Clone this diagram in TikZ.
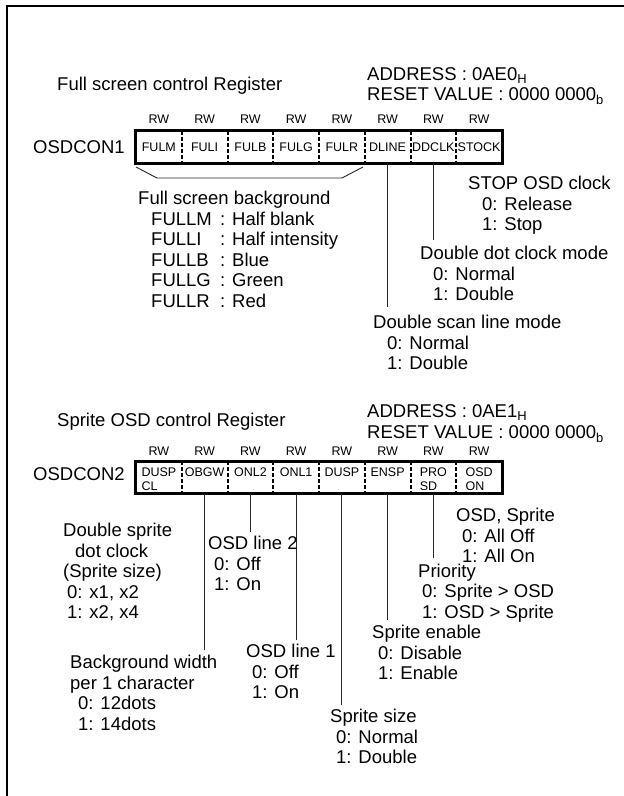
\documentclass[tikz,border=0pt]{standalone}
\usepackage{fontspec}
\setmainfont{Liberation Sans}
\newcommand\blk[1]{\begin{tabular}[t]{@{}l@{}}#1\end{tabular}}
\newcommand\ind[1][13pt]{\hspace*{#1}}
\newcommand\fname[1]{\makebox[69pt][l]{#1}}
\begin{document}
\begin{tikzpicture}[x=1pt,y=-1pt,
  big/.style={font=\fontsize{18.5}{20.5}\selectfont, inner sep=0pt, anchor=base west},
  sm/.style={font=\fontsize{12.5}{13.5}\selectfont, inner sep=0pt},
  cell/.style={inner sep=0pt, minimum width=45.75pt, anchor=center},
  regbox/.style={line width=3pt},
  divider/.style={line width=2pt, dash pattern=on 4pt off 2pt},
  conn/.style={line width=0.9pt, black!85},
  frame/.style={line width=2.5pt}]
\useasboundingbox (0,0) rectangle (624,796);
% frame
\coordinate (fbl) at (7,797);
\coordinate (ftl) at (7,6);
\coordinate (ftr) at (625,6);
\draw[frame] (fbl) -- (ftl) -- (ftr);

% ===== Register 1 =====
\node[big] (t1) at (57,90.6) {Full screen control Register};
\node[big] (ad1) at (367,80.6) {ADDRESS : 0AE0\textsubscript{H}};
\node[big] (rs1) at (367,100.6) {RESET VALUE : 0000 0000\textsubscript{b}};
\node[big] (n1) at (33,153) {OSDCON1};
\foreach \i/\t in {1/FULM,2/FULI,3/FULB,4/FULG,5/FULR,6/DLINE,7/DDCLK,8/STOCK}{
  \node[cell, minimum height=32pt] (a\i) at ({136+45.75*(\i-0.5)},147) {};
  \node[sm, anchor=base] (ta\i) at ({136+45.75*(\i-0.5)},151.5) {\t};
  \node[sm, anchor=base] (ra\i) at ({136+45.75*(\i-0.5)},123.5) {RW};
}
\draw[regbox] (a1.north west) rectangle (a8.south east);
\foreach \i in {1,...,7}{
  \draw[divider] (a\i.north east) -- (a\i.south east);
}
% brace
\coordinate (br1) at (136,167);
\coordinate (br2) at (157,178);
\coordinate (br3) at (342,178);
\coordinate (br4) at (363,167);
\draw[conn] (br1) -- (br2) -- (br3) -- (br4);
\draw[conn] (a6.south) -- ++(0,144);
\draw[conn] (a7.south) -- ++(0,77);

\node[big] (fsb) at (138,204.6) {\blk{Full screen background\\
\ind\fname{FULLM}: Half blank\\
\ind\fname{FULLI}: Half intensity\\
\ind\fname{FULLB}: Blue\\
\ind\fname{FULLG}: Green\\
\ind\fname{FULLR}: Red}};
\node[big] (stop) at (468,189.6) {\blk{STOP OSD clock\\\ind[14pt]0: Release\\\ind[14pt]1: Stop}};
\node[big] (ddclk) at (420,259.6) {\blk{Double dot clock mode\\\ind0: Normal\\\ind1: Double}};
\node[big] (dscan) at (373,328.6) {\blk{Double scan line mode\\\ind[14pt]0: Normal\\\ind[14pt]1: Double}};

% ===== Register 2 =====
\node[big] (t2) at (57,426.6) {Sprite OSD control Register};
\node[big] (ad2) at (367,417.6) {ADDRESS : 0AE1\textsubscript{H}};
\node[big] (rs2) at (367,438.6) {RESET VALUE : 0000 0000\textsubscript{b}};
\node[big] (n2) at (33,480.6) {OSDCON2};
\foreach \i/\t in {1/{DUSP\\CL},2/OBGW,3/ONL2,4/ONL1,5/DUSP,6/ENSP,7/{PRO\\SD},8/{OSD\\ON}}{
  \node[cell, minimum height=32pt] (b\i) at ({136+45.75*(\i-0.5)},477.5) {};
  \node[sm, anchor=base] (tb\i) at ({136+45.75*(\i-0.5)},476.5) {\blk{\t}};
  \node[sm, anchor=base] (rb\i) at ({136+45.75*(\i-0.5)},455.5) {RW};
}
\draw[regbox] (b1.north west) rectangle (b8.south east);
\foreach \i in {1,...,7}{
  \draw[divider] (b\i.north east) -- (b\i.south east);
}
\draw[conn] (b2.south) -- ++(0,156);
\draw[conn] (b3.south) -- ++(0,38);
\draw[conn] (b4.south) -- ++(0,146);
\draw[conn] (b5.south) -- ++(0,211);
\draw[conn] (b6.south) -- ++(0,126);
\draw[conn] (b7.south) -- ++(0,64);

\node[big] (dsclk) at (63,536.6) {\blk{Double sprite\\\ind[12pt]dot clock\\(Sprite size)\\\ind[4pt]0: x1, x2\\\ind[4pt]1: x2, x4}};
\node[big] (bgw) at (70,668.6) {\blk{Background width\\per 1 character\\\ind[8pt]0: 12dots\\\ind[8pt]1: 14dots}};
\node[big] (onl2) at (208,549.6) {\blk{OSD line 2\\\ind[6pt]0: Off\\\ind[6pt]1: On}};
\node[big] (onl1) at (246,657.6) {\blk{OSD line 1\\\ind[6pt]0: Off\\\ind[6pt]1: On}};
\node[big] (ssize) at (330,722.6) {\blk{Sprite size\\\ind[6pt]0: Normal\\\ind[6pt]1: Double}};
\node[big] (sen) at (372,638.6) {\blk{Sprite enable\\\ind[6pt]0: Disable\\\ind[6pt]1: Enable}};
\node[big] (prio) at (418,577) {\blk{Priority\\\ind[4pt]0: Sprite > OSD\\\ind[4pt]1: OSD > Sprite}};
\node[big] (osd) at (456,521.6) {\blk{OSD, Sprite\\\ind[6pt]0: All Off\\\ind[6pt]1: All On}};
\end{tikzpicture}
\end{document}
